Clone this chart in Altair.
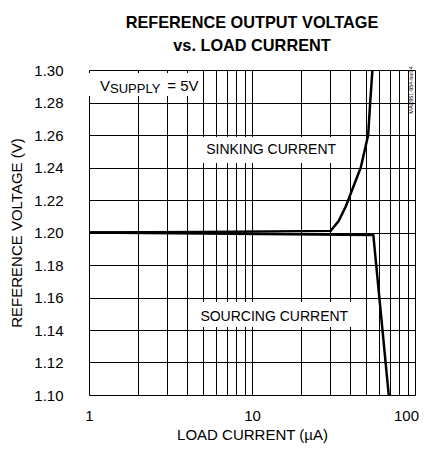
import altair as alt
import pandas as pd

# ---- data ----
sink_current = [1, 5, 30.4, 34, 37.6, 46.5, 51.6, 53.1, 54.8]
sink_voltage = [1.200, 1.2003, 1.201, 1.207, 1.216, 1.240, 1.260, 1.280, 1.300]
source_current = [1, 55.5, 69]
source_voltage = [1.200, 1.1985, 1.100]

x_grid = [1, 2, 3, 4, 5, 6, 7, 8, 9, 10, 20, 30, 40, 50, 60, 70, 80, 90, 100]
y_ticks = [1.10, 1.12, 1.14, 1.16, 1.18, 1.20, 1.22, 1.24, 1.26, 1.28, 1.30]

labels = ["SINKING CURRENT", "SOURCING CURRENT"]
label_x = [13.1, 13.7]
label_y = [1.2508, 1.1483]
box_x1 = [4.1, 4.1]
box_x2 = [39.0, 49.0]
box_y1 = [1.2428, 1.1418]
box_y2 = [1.2588, 1.1572]

supply_x1 = [1.0]
supply_x2 = [4.82]
supply_y1 = [1.2840]
supply_y2 = [1.2982]
supply_text = ["V", "SUPPLY", "= 5V"]
supply_text_x = [1.169, 1.346, 3.02]
supply_text_y = [1.2902, 1.2883, 1.2902]
supply_text_size = [15, 13, 15]

FONT = "Liberation Sans"

df = pd.concat([
    pd.DataFrame({"current": sink_current, "voltage": sink_voltage, "series": "sink"}),
    pd.DataFrame({"current": source_current, "voltage": source_voltage, "series": "source"}),
])

xs = alt.Scale(type="log", domain=[1, 100], nice=False)
ys = alt.Scale(domain=[1.10, 1.30], nice=False, zero=False)

x_axis = alt.Axis(
    values=x_grid, tickCount=len(x_grid), grid=True, gridColor="black", gridWidth=1, gridOpacity=1,
    ticks=False, domain=False, labelOverlap=False, labelFlush=False,
    labelExpr="(datum.value==1||datum.value==10||datum.value==100) ? format(datum.value,'d') : ''",
    labelOffset={"condition": {"test": "datum.value == 100", "value": -9}, "value": 0},
    labelFont=FONT, labelFontSize=15, labelColor="black", labelPadding=13,
    title="LOAD CURRENT (µA)", titleFont=FONT, titleFontSize=15, titleFontWeight="normal",
    titleColor="black", titlePadding=4,
)
y_axis = alt.Axis(
    values=y_ticks, tickCount=len(y_ticks), format=".2f", grid=True, gridColor="black",
    gridWidth=1, gridOpacity=1,
    ticks=False, domain=False, labelOverlap=False, labelFlush=False,
    labelFont=FONT, labelFontSize=15, labelColor="black", labelPadding=26,
    title="REFERENCE VOLTAGE (V)", titleFont=FONT, titleFontSize=15, titleFontWeight="normal",
    titleColor="black", titlePadding=9,
)

lines = alt.Chart(df).mark_line(color="black", strokeWidth=2.5, clip=True).encode(
    x=alt.X("current:Q", scale=xs, axis=x_axis),
    y=alt.Y("voltage:Q", scale=ys, axis=y_axis),
    detail="series:N",
)

ldf = pd.DataFrame({"text": labels, "x": label_x, "y": label_y,
                    "x1": box_x1, "x2": box_x2, "y1": box_y1, "y2": box_y2})
boxes = alt.Chart(ldf).mark_rect(color="white").encode(
    x=alt.X("x1:Q", scale=xs), x2="x2:Q",
    y=alt.Y("y1:Q", scale=ys), y2="y2:Q",
)
texts = alt.Chart(ldf).mark_text(font=FONT, fontSize=14, color="black").encode(
    x=alt.X("x:Q", scale=xs), y=alt.Y("y:Q", scale=ys), text="text:N",
)

sdf = pd.DataFrame({"x1": supply_x1, "x2": supply_x2, "y1": supply_y1, "y2": supply_y2})
sbox = alt.Chart(sdf).mark_rect(color="white").encode(
    x=alt.X("x1:Q", scale=xs), x2="x2:Q",
    y=alt.Y("y1:Q", scale=ys), y2="y2:Q",
)
supply_parts = pd.DataFrame({"text": supply_text, "x": supply_text_x,
                             "y": supply_text_y, "size": supply_text_size})
stext = alt.Chart(supply_parts).mark_text(font=FONT, color="black", align="left").encode(
    x=alt.X("x:Q", scale=xs), y=alt.Y("y:Q", scale=ys), text="text:N",
    size=alt.Size("size:Q", scale=None, legend=None),
)

watermark = alt.Chart(pd.DataFrame({"t": ["MAX951-954-toc04"]})).mark_text(
    font=FONT, fontSize=5.5, angle=270, color="black"
).encode(x=alt.value(321.5), y=alt.value(20), text="t:N")

chart = alt.layer(lines, boxes, texts, sbox, stext, watermark).properties(
    width=326, height=325,
    title=alt.TitleParams(
        ["REFERENCE OUTPUT VOLTAGE", "vs. LOAD CURRENT"],
        font=FONT, fontSize=16.3, fontWeight="bold", color="black",
        anchor="middle", offset=9, lineHeight=23,
    ),
    padding={"left": 81, "top": 62, "right": 4, "bottom": 48},
    autosize=alt.AutoSizeParams(type="none"),
).configure_view(stroke="black", strokeWidth=3).configure(background="white")

chart.save("out.html", embed_options={"renderer": "svg", "actions": False})
